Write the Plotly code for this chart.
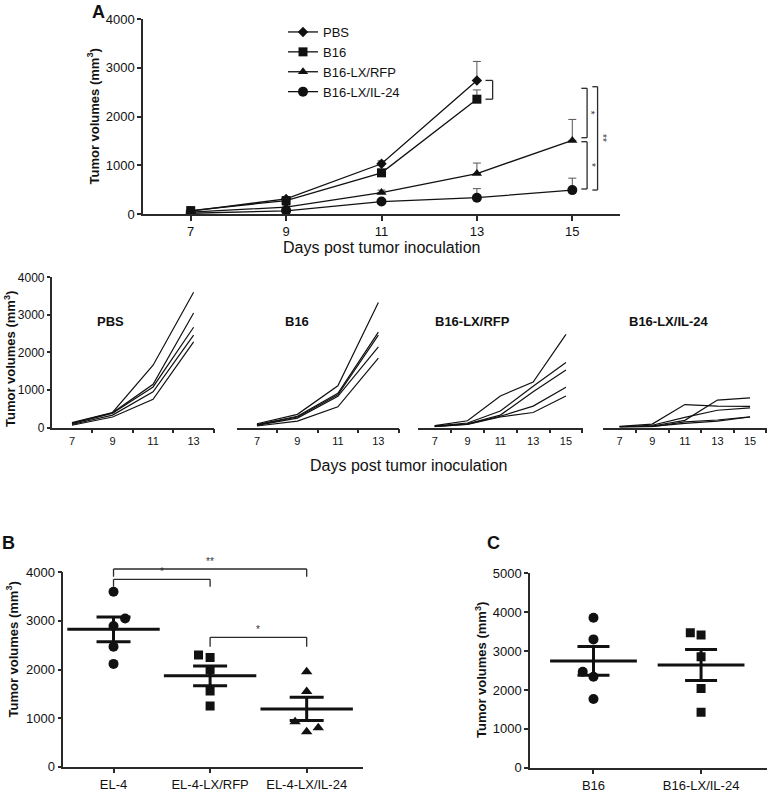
import numpy as np
import plotly.graph_objects as go

W, H = 769, 794
FONT = "Liberation Sans, Arial, sans-serif"
INK = "#111111"
AXC = "#2a2a2a"

# ---------------- Panel A: group means (mm^3) ----------------
days_A = [7, 9, 11, 13, 15]
groups_A = ["PBS", "B16", "B16-LX/RFP", "B16-LX/IL-24"]
mean_PBS = [60, 310, 1030, 2740]
mean_B16 = [70, 275, 845, 2355]
mean_RFP = [40, 140, 440, 830, 1510]
mean_IL24 = [15, 65, 255, 335, 490]
err_PBS = [10, 25, 60, 390]
err_B16 = [10, 25, 50, 190]
err_RFP = [10, 30, 50, 215, 430]
err_IL24 = [5, 20, 40, 185, 245]

# ---------------- Panel A: individual mice ----------------
mice_PBS = [[130, 400, 1660, 3600],
            [110, 390, 1150, 3050],
            [100, 380, 1080, 2670],
            [80, 330, 950, 2460],
            [60, 280, 750, 2280]]
mice_B16 = [[100, 350, 1110, 3330],
            [80, 300, 910, 2540],
            [70, 280, 870, 2460],
            [55, 250, 830, 2150],
            [40, 170, 550, 1850]]
mice_RFP = [[50, 180, 840, 1210, 2480],
            [40, 120, 440, 1100, 1730],
            [30, 100, 330, 950, 1530],
            [30, 90, 300, 570, 1070],
            [20, 80, 280, 400, 840]]
mice_IL24 = [[30, 90, 610, 570, 565],
             [20, 40, 190, 730, 790],
             [20, 60, 270, 460, 520],
             [10, 30, 110, 170, 280],
             [10, 20, 150, 200, 285]]

# ---------------- Panel B ----------------
cats_B = ["EL-4", "EL-4-LX/RFP", "EL-4-LX/IL-24"]
vals_B_EL4 = [3600, 3050, 2895, 2470, 2115]
vals_B_RFP = [2300, 2245, 1990, 1560, 1250]
vals_B_IL24 = [1955, 1545, 925, 720, 800]

# ---------------- Panel C ----------------
cats_C = ["B16", "B16-LX/IL-24"]
vals_C_B16 = [3855, 3300, 2470, 2340, 1765]
vals_C_IL24 = [3470, 3410, 2855, 2040, 1425]

# ---------------- layout helpers (positions / styles) ----------------
def px(x):
    return x / W

def py(y):
    return 1 - y / H

jit_B = [[0, 0.12, 0, 0, 0], [-0.12, 0, 0, 0, 0], [0, 0, -0.12, 0, 0.12]]
jit_C = [[0, 0, -0.1, 0, 0], [-0.1, 0, 0, 0, 0]]

fig = go.Figure()

# Panel A traces
symbols_A = ["diamond", "square", "triangle-up", "circle"]
sizes_A = [8, 9, 9, 10]
means_A = [mean_PBS, mean_B16, mean_RFP, mean_IL24]
errs_A = [err_PBS, err_B16, err_RFP, err_IL24]
for name, m, e, sym, sz in zip(groups_A, means_A, errs_A, symbols_A, sizes_A):
    fig.add_trace(go.Scatter(
        x=days_A[:len(m)], y=m, name=name, mode="lines+markers",
        line=dict(color=INK, width=1.3),
        marker=dict(symbol=sym, size=sz, color=INK),
        error_y=dict(type="data", symmetric=False, array=e, arrayminus=[0] * len(e),
                     color="#555555", thickness=1, width=4),
        xaxis="x", yaxis="y", showlegend=True))

# middle row
mice_sets = [mice_PBS, mice_B16, mice_RFP, mice_IL24]
for k, mice in enumerate(mice_sets):
    ax = str(k + 2)
    for row in mice:
        fig.add_trace(go.Scatter(
            x=days_A[:len(row)], y=row, mode="lines",
            line=dict(color=INK, width=1.2),
            xaxis="x" + ax, yaxis="y" + ax, showlegend=False, hoverinfo="skip"))

# Panel B & C dot plots
def dot_panel(vals_list, jits, symbols, sizes, xa, ya, mean_w, cap_w):
    for i, (vals, jit, sym, sz) in enumerate(zip(vals_list, jits, symbols, sizes)):
        fig.add_trace(go.Scatter(
            x=[i + j for j in jit], y=vals, mode="markers",
            marker=dict(symbol=sym, size=sz, color=INK),
            xaxis=xa, yaxis=ya, showlegend=False))
        v = np.array(vals, dtype=float)
        mean = v.mean()
        sem = v.std(ddof=1) / np.sqrt(len(v))
        fig.add_trace(go.Scatter(
            x=[i], y=[mean], mode="markers",
            marker=dict(symbol="line-ew", size=mean_w, color=INK,
                        line=dict(color=INK, width=3)),
            error_y=dict(type="data", array=[sem], color=INK, thickness=3, width=cap_w),
            xaxis=xa, yaxis=ya, showlegend=False))

dot_panel([vals_B_EL4, vals_B_RFP, vals_B_IL24], jit_B,
          ["circle", "square", "triangle-up"], [10, 9, 10], "x6", "y6", 66, 17)
dot_panel([vals_C_B16, vals_C_IL24], jit_C,
          ["circle", "square"], [10, 9], "x7", "y7", 62, 16)

# ---------------- axes ----------------
base = dict(showline=True, linecolor=AXC, linewidth=1.5, showgrid=False, zeroline=False,
            ticks="outside", tickcolor=AXC, tickwidth=1.5, ticklen=4, automargin=False,
            tickfont=dict(size=13, color=INK, family=FONT), fixedrange=True)

lay = {}
# Panel A
lay["xaxis"] = dict(base, domain=[px(143), px(620)], anchor="y", range=[6, 16],
                    tickvals=days_A, ticklen=5)
lay["yaxis"] = dict(base, domain=[py(214), py(19)], anchor="x", range=[0, 4000],
                    tickvals=[0, 1000, 2000, 3000, 4000])

mid_x = [(51.7, 214.3, 14), (236.7, 399, 14), (418.3, 582.7, 16), (603.3, 766.7, 16)]
for k, (a, b, r1) in enumerate(mid_x):
    ax = str(k + 2)
    lab = [d for d in days_A if d < r1]
    lay["xaxis" + ax] = dict(base, domain=[px(a), px(b)], anchor="y" + ax, range=[6, r1 + 0.02],
                             tickvals=lab, tickcolor="rgba(0,0,0,0)", ticklen=3,
                             tickfont=dict(size=11, color=INK, family=FONT),
                             minor=dict(tickvals=list(range(8, r1 + 1, 2)), ticks="outside",
                                        ticklen=4, tickcolor=AXC, tickwidth=1.5))
    yd = dict(base, domain=[py(427.5), py(277.3)], anchor="x" + ax, range=[0, 4000],
              tickvals=[0, 1000, 2000, 3000, 4000], ticklen=3,
              tickfont=dict(size=12, color=INK, family=FONT))
    if k > 0:
        yd["visible"] = False
    lay["yaxis" + ax] = yd

rB = [-0.52, 2.58]
lay["xaxis6"] = dict(base, domain=[px(63.3), px(362.7)], anchor="y6", range=rB,
                     tickvals=[0, 1, 2], ticktext=cats_B, ticklen=5)
lay["yaxis6"] = dict(base, domain=[py(766.7), py(572.3)], anchor="x6", range=[0, 4000],
                     tickvals=[0, 1000, 2000, 3000, 4000])
rC = [-0.59, 1.61]
lay["xaxis7"] = dict(base, domain=[px(530), px(766.7)], anchor="y7", range=rC,
                     tickvals=[0, 1], ticktext=cats_C, ticklen=5)
lay["yaxis7"] = dict(base, domain=[py(767.7), py(573.3)], anchor="x7", range=[0, 5000],
                     tickvals=[0, 1000, 2000, 3000, 4000, 5000])

# ---------------- significance brackets ----------------
shapes = []
LW = 1.3

def seg(x0, y0, x1, y1, xr, yr):
    shapes.append(dict(type="line", x0=x0, y0=y0, x1=x1, y1=y1, xref=xr, yref=yr,
                       line=dict(color=AXC, width=LW)))

annots = []

def txt(x, y, s, size, xr="paper", yr="paper", angle=0, bold=False, xa="center", ya="middle",
        color=INK):
    annots.append(dict(x=x, y=y, xref=xr, yref=yr, text=("<b>%s</b>" % s) if bold else s,
                       showarrow=False, textangle=angle, xanchor=xa, yanchor=ya,
                       font=dict(size=size, color=color, family=FONT)))

# Panel A: PBS vs B16 at day 13
yA_top, yA_bot = mean_PBS[-1], mean_B16[-1]
seg(13.18, yA_top, 13.33, yA_top, "x", "y")
seg(13.33, yA_top, 13.33, yA_bot, "x", "y")
seg(13.18, yA_bot, 13.33, yA_bot, "x", "y")

sig_A = [(15.19, 15.31, 2578, 1565, "*", 15.40),
         (15.19, 15.31, 1483, 513, "*", 15.40),
         (15.42, 15.53, 2611, 492, "**", 15.63)]
for xi, xo, yt, yb, lab, xl in sig_A:
    seg(xi, yt, xo, yt, "x", "y")
    seg(xo, yt, xo, yb, "x", "y")
    seg(xi, yb, xo, yb, "x", "y")
    txt(xl, (yt + yb) / 2, lab, 10, "x", "y", angle=90, color="#333333")

# Panel B brackets (domain coordinates so they are not clipped)
def fx(v, r):
    return (v - r[0]) / (r[1] - r[0])

def fy(v, top):
    return v / top

sig_B = [(0, 2, 4068, 3909, "**"), (0, 1, 3856, 3704, "*"), (1, 2, 2663, 2469, "*")]
for a, b, yt, yb, lab in sig_B:
    xr, yr = "x6 domain", "y6 domain"
    seg(fx(a, rB), fy(yt, 4000), fx(b, rB), fy(yt, 4000), xr, yr)
    seg(fx(a, rB), fy(yt, 4000), fx(a, rB), fy(yb, 4000), xr, yr)
    seg(fx(b, rB), fy(yt, 4000), fx(b, rB), fy(yb, 4000), xr, yr)
    txt(fx((a + b) / 2, rB), fy(yt, 4000), lab, 10, xr, yr, ya="bottom", color="#333333")

# ---------------- titles & labels ----------------
ytitle = "Tumor volumes (mm<sup>3</sup>)"
txt(px(98), py(12), "A", 18, bold=True)
txt(px(8.5), py(543), "B", 18, bold=True)
txt(px(493.5), py(543), "C", 18, bold=True)
txt(px(93.5), py(117), ytitle, 13, angle=-90, bold=True)
txt(px(381.5), py(247), "Days post tumor inoculation", 16)
txt(px(10), py(359), ytitle, 13, angle=-90, bold=True)
txt(px(408), py(465), "Days post tumor inoculation", 16)
txt(px(12.5), py(650), ytitle, 13, angle=-90, bold=True)
txt(px(481), py(670), ytitle, 13, angle=-90, bold=True)
for lab, cx in zip(groups_A, [111, 297, 472, 669]):
    txt(px(cx), py(321), lab, 13, bold=True)

fig.update_layout(
    width=W, height=H, margin=dict(l=0, r=0, t=0, b=0, autoexpand=False),
    paper_bgcolor="white", plot_bgcolor="white",
    font=dict(family=FONT, color=INK),
    showlegend=True,
    legend=dict(x=px(283), y=py(17), xanchor="left", yanchor="top",
                bgcolor="rgba(0,0,0,0)", font=dict(size=13, color=INK, family=FONT),
                tracegroupgap=0, itemwidth=30),
    shapes=shapes, annotations=annots, **lay)

fig.write_html("out.html", config={"displayModeBar": False},
               post_script="document.body.style.margin='0';document.body.style.padding='0';")
